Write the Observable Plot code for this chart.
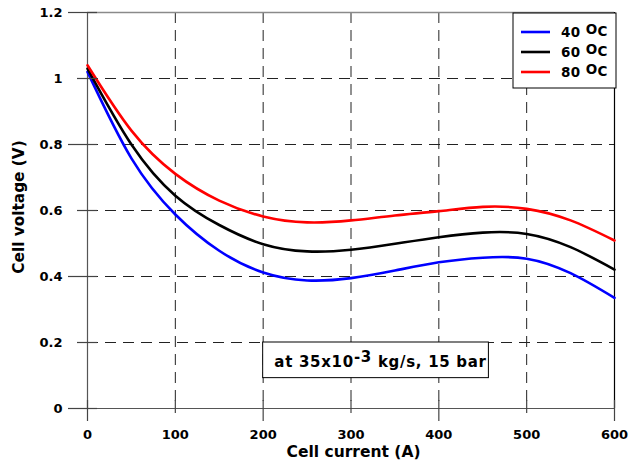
<!DOCTYPE html>
<html><head><meta charset="utf-8">
<script src="https://cdn.jsdelivr.net/npm/d3@7"></script>
<script src="https://cdn.jsdelivr.net/npm/@observablehq/plot@0.6"></script>
<style>body{margin:0;background:#fff}</style>
</head><body><div id="chart"></div>
<script>
// ---- data ----
const current = [0, 50, 100, 150, 200, 250, 300, 350, 400, 450, 500, 550, 600];
const v40 = [1.02, 0.758, 0.588, 0.478, 0.412, 0.388, 0.395, 0.418, 0.443, 0.457, 0.454, 0.41, 0.335];
const v60 = [1.03, 0.8, 0.645, 0.556, 0.498, 0.476, 0.481, 0.499, 0.519, 0.533, 0.529, 0.489, 0.421];
const v80 = [1.04, 0.842, 0.711, 0.63, 0.582, 0.564, 0.57, 0.585, 0.598, 0.611, 0.605, 0.57, 0.509];
const seriesNames = ["40", "60", "80"];
const seriesColors = ["#0000ff", "#000000", "#ff0000"];
const xTicks = [0, 100, 200, 300, 400, 500, 600];
const yTicks = [0, 0.2, 0.4, 0.6, 0.8, 1, 1.2];
const xMajor = [0, 200, 400, 600], xMinor = [100, 300, 500];
const yMajor = [0, 0.4, 0.8, 1.2], yMinor = [0.2, 0.6, 1];
const xLabel = "Cell current (A)";
const yLabel = "Cell voltage (V)";
const noteParts = ["at 35x10", "-3", " kg/s, 15 bar"];
const noteBox = {x1: 200, x2: 457, y1: 0.092, y2: 0.2};

const rows = [];
[v40, v60, v80].forEach((vals, k) => current.forEach((c, i) => rows.push({current: c, voltage: vals[i], series: seriesNames[k]})));

const FONT = "DejaVu Sans";
const grid = {stroke: "#222", strokeOpacity: 1, strokeWidth: 1, strokeDasharray: "11,7"};

const plot = Plot.plot({
  width: 633, height: 462,
  marginLeft: 87, marginRight: 19, marginTop: 12, marginBottom: 54,
  style: {fontFamily: FONT, fontSize: "13px", fontWeight: "bold", color: "#000", background: "#fff"},
  x: {domain: [0, 600]},
  y: {domain: [0, 1.2]},
  color: {domain: seriesNames, range: seriesColors},
  marks: [
    Plot.gridX(xTicks.slice(1, -1), grid),
    Plot.gridY(yTicks.slice(1, -1), grid),
    Plot.rect([noteBox], {x1: "x1", x2: "x2", y1: "y1", y2: "y2", fill: "#fff", stroke: "#000", strokeWidth: 1}),
    Plot.ruleY([1.2], {x1: 0, x2: 600, stroke: "#8a8a8a", strokeWidth: 1.5}),
    Plot.ruleY([0], {x1: 0, x2: 600, stroke: "#555", strokeWidth: 1.2}),
    Plot.ruleX([0], {y1: 0, y2: 1.2, stroke: "#555", strokeWidth: 1.2}),
    Plot.ruleX([600], {y1: 0, y2: 1.2, stroke: "#000", strokeWidth: 1.2}),
    Plot.line(rows, {x: "current", y: "voltage", z: "series", stroke: "series", strokeWidth: 2.6, curve: "natural"}),
    Plot.ruleY(yMajor, {y: d => d, x1: 0, x2: 0, insetLeft: -19, insetRight: -10, stroke: "#444", strokeWidth: 1.2}),
    Plot.ruleY(yMinor, {y: d => d, x1: 0, x2: 0, insetLeft: -10, insetRight: -10, stroke: "#444", strokeWidth: 1.2}),
    Plot.ruleX(xMajor, {x: d => d, y1: 0, y2: 0, insetTop: 13, insetBottom: 8, stroke: "#444", strokeWidth: 1.2}),
    Plot.ruleX(xMinor, {x: d => d, y1: 0, y2: 0, insetTop: 5, insetBottom: 8, stroke: "#444", strokeWidth: 1.2}),
    Plot.axisX(xTicks, {tickSize: 0, tickPadding: 21, label: null, fontWeight: "bold"}),
    Plot.axisY(yTicks, {tickSize: 0, tickPadding: 25, label: null, fontWeight: "bold", tickFormat: d => String(d)})
  ]
});

const svg = d3.select(plot);
const xs = plot.scale("x"), ys = plot.scale("y");
const X = v => xs.apply(v), Y = v => ys.apply(v);

// axis titles
svg.append("text").attr("x", 353.5).attr("y", Y(0) + 49)
  .attr("text-anchor", "middle").attr("font-family", FONT).attr("font-weight", "bold")
  .attr("font-size", 15.5).text(xLabel);
svg.append("text").attr("transform", `translate(24,${(Y(0) + Y(1.2)) / 2 - 3}) rotate(-90)`)
  .attr("text-anchor", "middle").attr("font-family", FONT).attr("font-weight", "bold")
  .attr("font-size", 15.3).text(yLabel);

// annotation text
const nt = svg.append("text").attr("x", (X(noteBox.x1) + X(noteBox.x2)) / 2 + 5).attr("y", Y(noteBox.y2) + 25)
  .attr("text-anchor", "middle").attr("font-family", FONT).attr("font-weight", "bold")
  .attr("font-size", 15).attr("letter-spacing", 0.7);
nt.append("tspan").text(noteParts[0]);
nt.append("tspan").attr("dy", -5).text(noteParts[1]);
nt.append("tspan").attr("dy", 5).text(noteParts[2]);

// legend
const lx = X(600) - 101, ly = Y(1.2) + 1;
const lg = svg.append("g");
lg.append("rect").attr("x", lx).attr("y", ly).attr("width", 103).attr("height", 75)
  .attr("fill", "#fff").attr("stroke", "#000").attr("stroke-width", 1);
seriesNames.forEach((s, i) => {
  const yy = ly + 19 + i * 20;
  lg.append("line").attr("x1", lx + 8).attr("x2", lx + 37).attr("y1", yy).attr("y2", yy)
    .attr("stroke", seriesColors[i]).attr("stroke-width", 2.6);
  const t = lg.append("text").attr("x", lx + 48).attr("y", yy + 5).attr("text-anchor", "start")
    .attr("font-family", FONT).attr("font-weight", "bold").attr("font-size", 13.5).attr("letter-spacing", 0.4);
  t.append("tspan").text(s + " ");
  t.append("tspan").attr("dy", -3).text("O");
  t.append("tspan").attr("dy", 2).text("C");
});

document.getElementById("chart").appendChild(plot);
</script>
</body></html>
